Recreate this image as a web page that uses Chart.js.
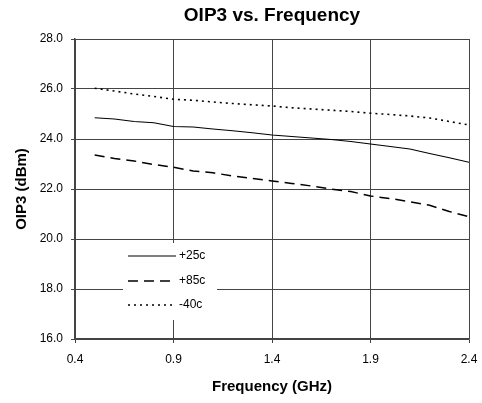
<!DOCTYPE html>
<html>
<head>
<meta charset="utf-8">
<script src="https://cdn.jsdelivr.net/npm/chart.js@4/dist/chart.umd.min.js"></script>
<style>
  html, body { margin: 0; padding: 0; background: #fff; }
  #wrap { width: 482px; height: 403px; }
</style>
</head>
<body>
<div id="wrap"><canvas id="oip3Chart" width="482" height="403"></canvas></div>
<script>
const freqs = [0.5, 0.6, 0.7, 0.8, 0.9, 1.0, 1.1, 1.2, 1.3, 1.4, 1.5, 1.6, 1.7, 1.8, 1.9, 2.0, 2.1, 2.2, 2.3, 2.4];
const temp25 = [24.85, 24.8, 24.7, 24.65, 24.5, 24.48, 24.4, 24.33, 24.25, 24.16, 24.1, 24.04, 23.98, 23.9, 23.8, 23.7, 23.6, 23.42, 23.25, 23.07];
const temp85 = [23.36, 23.22, 23.12, 22.98, 22.87, 22.72, 22.65, 22.52, 22.42, 22.32, 22.22, 22.12, 22.0, 21.9, 21.72, 21.62, 21.49, 21.35, 21.1, 20.89];
const tempM40 = [26.03, 25.92, 25.8, 25.7, 25.59, 25.55, 25.48, 25.42, 25.37, 25.32, 25.25, 25.2, 25.15, 25.1, 25.03, 24.98, 24.92, 24.84, 24.7, 24.56];
const seriesNames = ["+25c", "+85c", "-40c"];
const xTicks = [0.4, 0.9, 1.4, 1.9, 2.4];
const yTicks = [16, 18, 20, 22, 24, 26, 28];

const FONT = "'Liberation Sans', Arial, sans-serif";

function toPoints(values) {
  return freqs.map((f, i) => ({ x: f, y: values[i] }));
}

// legend drawn inside the plot, white box over the grid
const insideLegend = {
  id: "insideLegend",
  afterDatasetsDraw(chart) {
    const { ctx } = chart;
    const rows = [256, 281, 305];
    ctx.save();
    ctx.fillStyle = "#fff";
    ctx.fillRect(123, 243, 94, 77);
    chart.data.datasets.forEach((ds, i) => {
      const y = rows[i];
      ctx.beginPath();
      ctx.strokeStyle = "#000";
      ctx.lineWidth = ds.borderWidth;
      ctx.setLineDash(ds.borderDash || []);
      ctx.moveTo(128, y);
      ctx.lineTo(176, y);
      ctx.stroke();
      ctx.setLineDash([]);
      ctx.fillStyle = "#000";
      ctx.font = "12px " + FONT;
      ctx.textBaseline = "middle";
      ctx.fillText(ds.label, 179, y);
    });
    ctx.restore();
  },
};

new Chart(document.getElementById("oip3Chart"), {
  type: "line",
  data: {
    datasets: [
      { label: seriesNames[0], data: toPoints(temp25), borderColor: "#000", borderWidth: 1.2, pointRadius: 0 },
      { label: seriesNames[1], data: toPoints(temp85), borderColor: "#000", borderWidth: 1.5, borderDash: [10, 6], pointRadius: 0 },
      { label: seriesNames[2], data: toPoints(tempM40), borderColor: "#000", borderWidth: 1.6, borderDash: [2, 4], pointRadius: 0 },
    ],
  },
  options: {
    responsive: false,
    animation: false,
    layout: { padding: { left: 0, right: 13, top: 0, bottom: 0 } },
    plugins: {
      legend: { display: false },
      tooltip: { enabled: false },
      title: {
        display: true,
        fullSize: false,
        text: "OIP3 vs. Frequency",
        color: "#000",
        font: { family: FONT, size: 19, weight: "bold" },
        padding: { top: 4, bottom: 12.2 },
      },
    },
    scales: {
      x: {
        type: "linear",
        min: 0.4,
        max: 2.4,
        afterBuildTicks(scale) {
          scale.ticks = xTicks.map((v) => ({ value: v }));
        },
        afterFit(scale) {
          scale.height = 64;
          scale.paddingLeft = 0;
          scale.paddingRight = 0;
        },
        ticks: {
          color: "#000",
          font: { family: FONT, size: 12 },
          padding: 9,
          maxRotation: 0,
          callback: (v) => v.toFixed(1),
        },
        grid: { color: "#444", lineWidth: 1, tickLength: 4 },
        border: { color: "#444", width: 1.5 },
        title: {
          display: true,
          text: "Frequency (GHz)",
          color: "#000",
          font: { family: FONT, size: 15, weight: "bold" },
          padding: { top: 0, bottom: 7 },
        },
      },
      y: {
        min: 16,
        max: 28,
        afterBuildTicks(scale) {
          scale.ticks = yTicks.map((v) => ({ value: v }));
        },
        afterFit(scale) {
          scale.width = 75;
          scale.paddingTop = 0;
          scale.paddingBottom = 0;
        },
        ticks: {
          color: "#000",
          font: { family: FONT, size: 12 },
          padding: 8,
          callback: (v) => v.toFixed(1),
        },
        grid: { color: "#444", lineWidth: 1, tickLength: 4 },
        border: { color: "#444", width: 1.5 },
        title: {
          display: true,
          text: "OIP3 (dBm)",
          color: "#000",
          font: { family: FONT, size: 15, weight: "bold" },
          padding: { top: 13, bottom: 0 },
        },
      },
    },
  },
  plugins: [insideLegend],
});
</script>
</body>
</html>
